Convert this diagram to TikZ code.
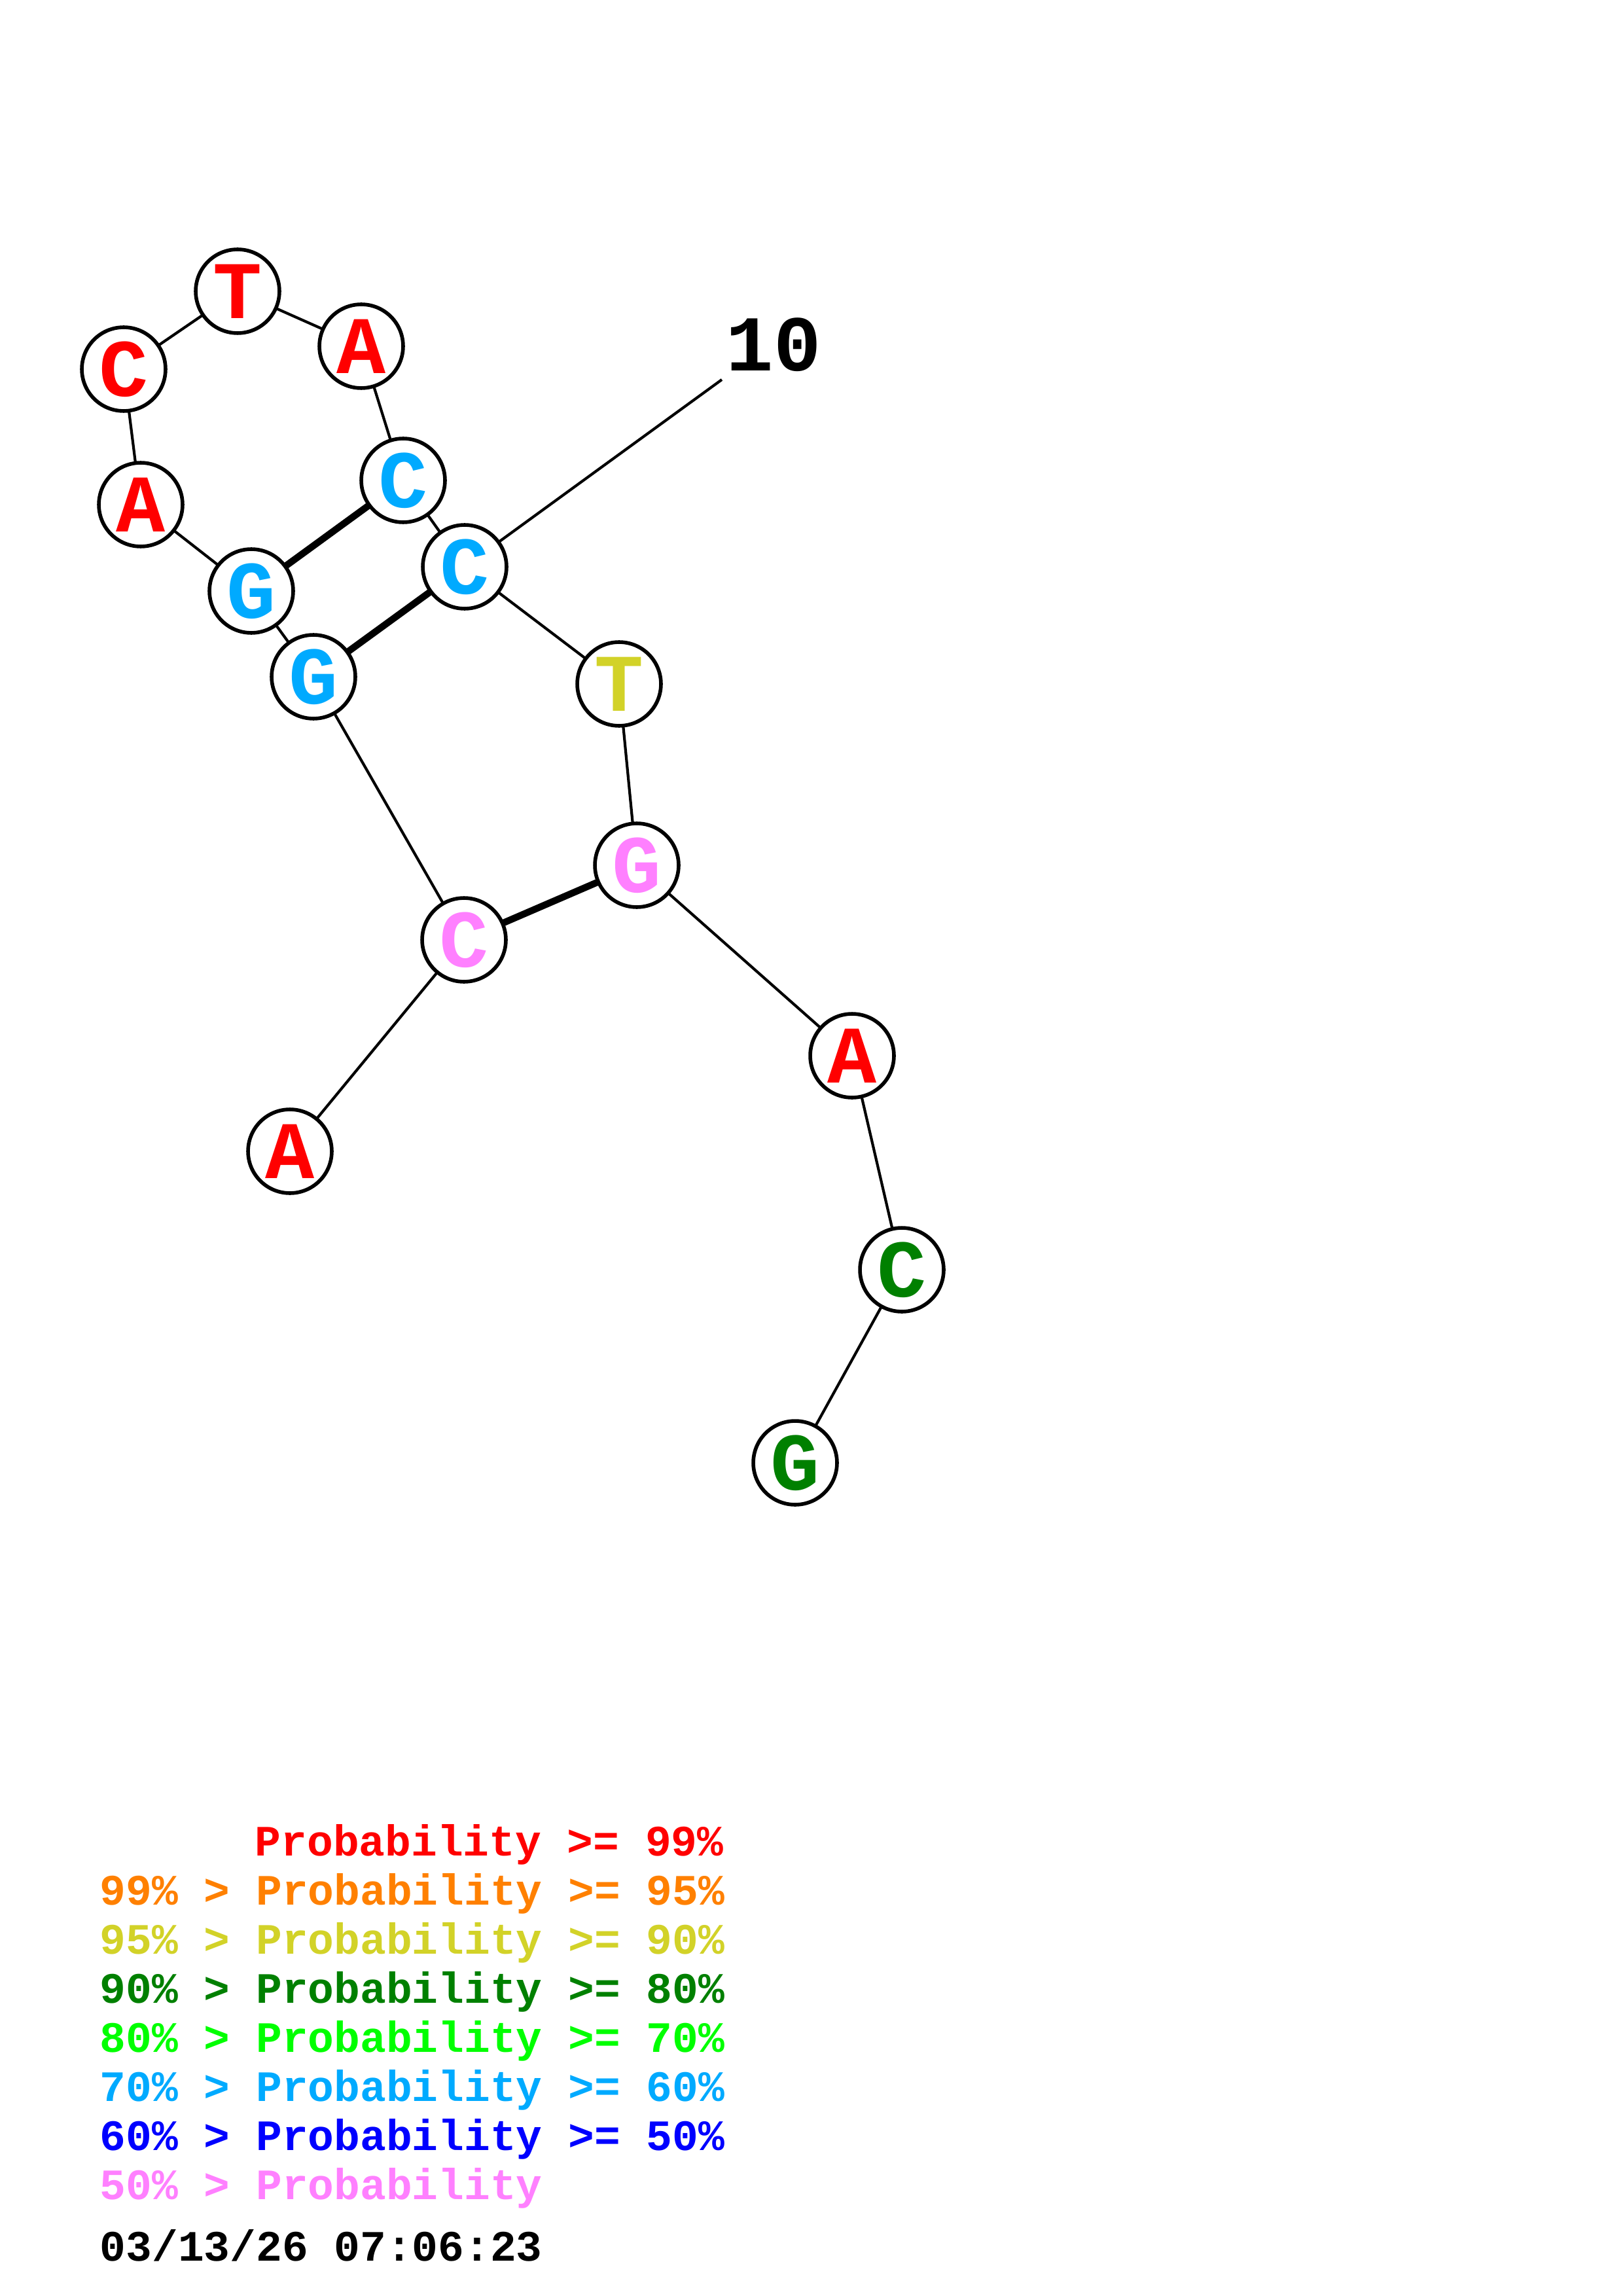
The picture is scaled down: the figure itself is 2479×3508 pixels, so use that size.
\documentclass[tikz,border=0pt]{standalone}
\usepackage{fontspec}
\setmonofont{Liberation Mono}
\definecolor{cRed}{RGB}{255,0,0}
\definecolor{cOrange}{RGB}{255,128,0}
\definecolor{cYellow}{RGB}{210,210,40}
\definecolor{cDkGreen}{RGB}{0,128,0}
\definecolor{cGreen}{RGB}{0,255,0}
\definecolor{cCyan}{RGB}{0,170,255}
\definecolor{cBlue}{RGB}{0,0,255}
\definecolor{cPink}{RGB}{255,128,255}
\tikzset{
  base/.style={circle,draw=black,fill=white,line width=1.35pt,minimum size=30.7pt,inner sep=0pt,
    font=\ttfamily\bfseries\fontsize{30}{30}\selectfont},
  bond/.style={line width=1.0pt},
  pair/.style={line width=2.5pt},
  legend/.style={anchor=base west,inner sep=0pt,font=\ttfamily\bfseries\fontsize{15.9}{18}\selectfont}
}
\begin{document}
\begin{tikzpicture}[x=0.24pt,y=-0.24pt]
\useasboundingbox[fill=white] (0,0) rectangle (2479,3508);
% positions
\coordinate (n1p) at (443,1759);
\coordinate (n2p) at (709,1436);
\coordinate (n3p) at (479,1034);
\coordinate (n4p) at (384,903);
\coordinate (n5p) at (215,771);
\coordinate (n6p) at (189,564);
\coordinate (n7p) at (363,445);
\coordinate (n8p) at (552,529);
\coordinate (n9p) at (616,734);
\coordinate (n10p) at (710,866);
\coordinate (n11p) at (946,1045);
\coordinate (n12p) at (973,1322);
\coordinate (n13p) at (1302,1613);
\coordinate (n14p) at (1378,1940);
\coordinate (n15p) at (1215,2235);
\coordinate (lbl) at (1103,580);
% connectors
\draw[bond] (n1p) -- (n2p) -- (n3p) -- (n4p) -- (n5p) -- (n6p) -- (n7p) -- (n8p) -- (n9p) -- (n10p) -- (n11p) -- (n12p) -- (n13p) -- (n14p) -- (n15p);
\draw[bond] (n10p) -- (lbl);
\draw[pair] (n4p) -- (n9p);
\draw[pair] (n3p) -- (n10p);
\draw[pair] (n2p) -- (n12p);
% nodes
\node[base,text=cRed] (n1) at (n1p) {\raisebox{-1.5pt}{A}};
\node[base,text=cPink] (n2) at (n2p) {\raisebox{-1.5pt}{C}};
\node[base,text=cCyan] (n3) at (n3p) {\raisebox{-1.5pt}{G}};
\node[base,text=cCyan] (n4) at (n4p) {\raisebox{-1.5pt}{G}};
\node[base,text=cRed] (n5) at (n5p) {\raisebox{-1.5pt}{A}};
\node[base,text=cRed] (n6) at (n6p) {\raisebox{-1.5pt}{C}};
\node[base,text=cRed] (n7) at (n7p) {\raisebox{-1.5pt}{T}};
\node[base,text=cRed] (n8) at (n8p) {\raisebox{-1.5pt}{A}};
\node[base,text=cCyan] (n9) at (n9p) {\raisebox{-1.5pt}{C}};
\node[base,text=cCyan] (n10) at (n10p) {\raisebox{-1.5pt}{C}};
\node[base,text=cYellow] (n11) at (n11p) {\raisebox{-1.5pt}{T}};
\node[base,text=cPink] (n12) at (n12p) {\raisebox{-1.5pt}{G}};
\node[base,text=cRed] (n13) at (n13p) {\raisebox{-1.5pt}{A}};
\node[base,text=cDkGreen] (n14) at (n14p) {\raisebox{-1.5pt}{C}};
\node[base,text=cDkGreen] (n15) at (n15p) {\raisebox{-1.5pt}{G}};
\node[inner sep=0pt,font=\ttfamily\bfseries\fontsize{29}{29}\selectfont] (l10) at (1182,527) {10};
% legend
\node[legend,text=cRed] (g1) at (389,2835) {Probability >= 99\%};
\node[legend,text=cOrange] (g2) at (152,2910) {99\% > Probability >= 95\%};
\node[legend,text=cYellow] (g3) at (152,2985) {95\% > Probability >= 90\%};
\node[legend,text=cDkGreen] (g4) at (152,3060) {90\% > Probability >= 80\%};
\node[legend,text=cGreen] (g5) at (152,3135) {80\% > Probability >= 70\%};
\node[legend,text=cCyan] (g6) at (152,3210) {70\% > Probability >= 60\%};
\node[legend,text=cBlue] (g7) at (152,3285) {60\% > Probability >= 50\%};
\node[legend,text=cPink] (g8) at (152,3360) {50\% > Probability};
\node[legend,text=black] (date) at (152,3454) {03/13/26 07:06:23};
\end{tikzpicture}
\end{document}
